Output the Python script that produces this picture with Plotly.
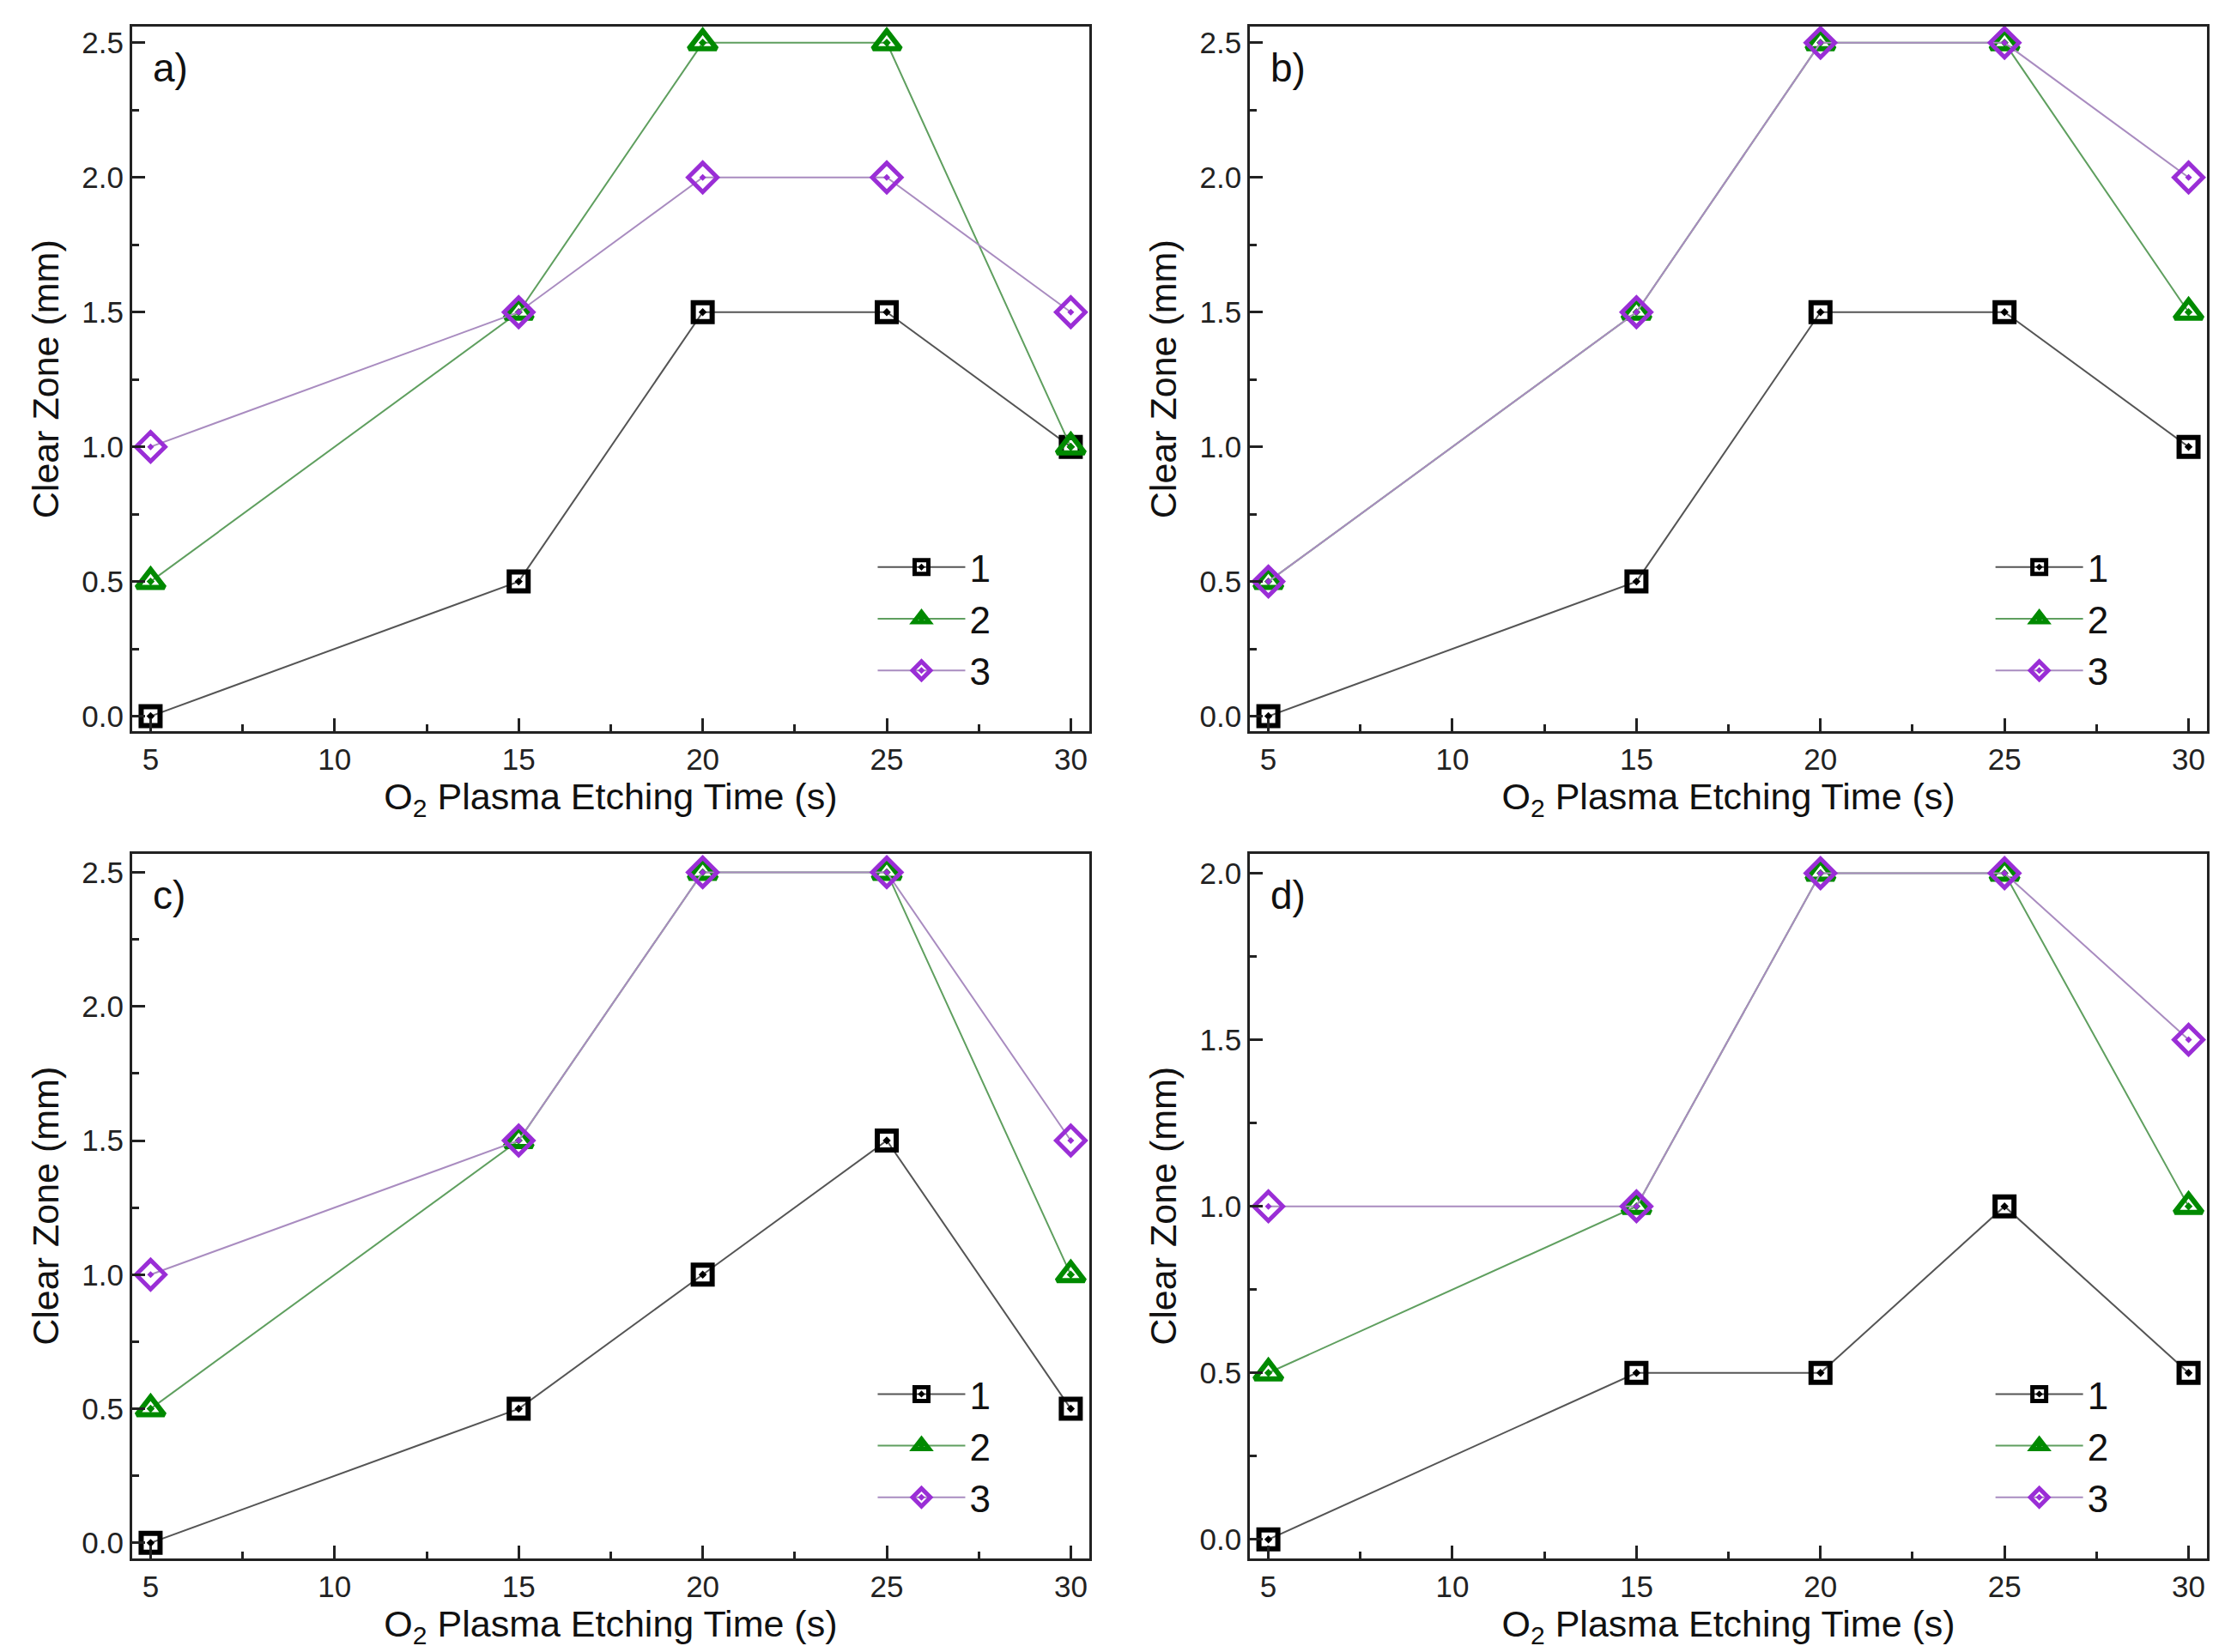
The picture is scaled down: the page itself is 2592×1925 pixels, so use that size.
import plotly.graph_objects as go
from plotly.subplots import make_subplots

# etching times (s)
time_s = [5, 15, 20, 25, 30]
series_names = ["1", "2", "3"]

# clear zone (mm) per panel, series 1/2/3
a_1 = [0.0, 0.5, 1.5, 1.5, 1.0]
a_2 = [0.5, 1.5, 2.5, 2.5, 1.0]
a_3 = [1.0, 1.5, 2.0, 2.0, 1.5]

b_1 = [0.0, 0.5, 1.5, 1.5, 1.0]
b_2 = [0.5, 1.5, 2.5, 2.5, 1.5]
b_3 = [0.5, 1.5, 2.5, 2.5, 2.0]

c_1 = [0.0, 0.5, 1.0, 1.5, 0.5]
c_2 = [0.5, 1.5, 2.5, 2.5, 1.0]
c_3 = [1.0, 1.5, 2.5, 2.5, 1.5]

d_1 = [0.0, 0.5, 0.5, 1.0, 0.5]
d_2 = [0.5, 1.0, 2.0, 2.0, 1.0]
d_3 = [1.0, 1.0, 2.0, 2.0, 1.5]

panel_labels = ["a)", "b)", "c)", "d)"]
panels = [(a_1, a_2, a_3), (b_1, b_2, b_3), (c_1, c_2, c_3), (d_1, d_2, d_3)]
y_ranges = [[-0.057, 2.56], [-0.057, 2.56], [-0.058, 2.57], [-0.057, 2.059]]
y_ticks = [[0, 0.5, 1.0, 1.5, 2.0, 2.5]] * 3 + [[0, 0.5, 1.0, 1.5, 2.0]]

styles = [
    dict(symbol="square-open-dot", mcolor="#000000", lcolor="#555555", size=22, lw=6),
    dict(symbol="triangle-up-open-dot", mcolor="#008a00", lcolor="#5f9f5f", size=28, lw=6),
    dict(symbol="diamond-open-dot", mcolor="#9a2ed6", lcolor="#a98cc0", size=26, lw=5),
]

FONT = "Liberation Sans, Arial, sans-serif"

fig = make_subplots(rows=2, cols=2, horizontal_spacing=0.0775, vertical_spacing=0.0796)

legend_names = ["legend", "legend2", "legend3", "legend4"]
for i, data in enumerate(panels):
    row, col = i // 2 + 1, i % 2 + 1
    for j, ys in enumerate(data):
        st = styles[j]
        fig.add_trace(
            go.Scatter(
                x=time_s,
                y=ys,
                name=series_names[j],
                mode="lines+markers",
                line=dict(color=st["lcolor"], width=2),
                marker=dict(
                    symbol=st["symbol"],
                    size=st["size"],
                    color=st["mcolor"],
                    line=dict(color=st["mcolor"], width=st["lw"]),
                ),
                legend=legend_names[i],
                cliponaxis=False,
            ),
            row=row,
            col=col,
        )

fig.update_xaxes(
    range=[4.5, 30.5],
    tickvals=[5, 10, 15, 20, 25, 30],
    ticks="inside",
    ticklen=15,
    tickwidth=2.5,
    tickcolor="#222",
    minor=dict(dtick=2.5, tick0=5, ticks="inside", ticklen=8, tickwidth=2.5, tickcolor="#222"),
    showline=True,
    linecolor="#222",
    linewidth=3,
    mirror=True,
    showgrid=False,
    zeroline=False,
    tickfont=dict(size=35, color="#222", family=FONT),
    title=dict(text="O<sub>2</sub> Plasma Etching Time (s)", font=dict(size=43, color="#111", family=FONT), standoff=8),
)
for i in range(4):
    row, col = i // 2 + 1, i % 2 + 1
    fig.update_yaxes(
        range=y_ranges[i],
        tickvals=y_ticks[i],
        ticktext=[f"{v:.1f}" for v in y_ticks[i]],
        row=row,
        col=col,
    )
fig.update_yaxes(
    ticks="inside",
    ticklen=15,
    tickwidth=2.5,
    tickcolor="#222",
    minor=dict(dtick=0.25, tick0=0, ticks="inside", ticklen=8, tickwidth=2.5, tickcolor="#222"),
    showline=True,
    linecolor="#222",
    linewidth=3,
    mirror=True,
    showgrid=False,
    zeroline=False,
    tickfont=dict(size=35, color="#222", family=FONT),
    title=dict(text="Clear Zone (mm)", font=dict(size=43, color="#111", family=FONT), standoff=14),
)

# panel letters
for i, lab in enumerate(panel_labels):
    ax = "" if i == 0 else str(i + 1)
    fig.add_annotation(
        text=lab,
        xref=f"x{ax} domain",
        yref=f"y{ax} domain",
        x=0,
        y=1,
        xanchor="left",
        yanchor="top",
        xshift=22,
        yshift=-20,
        showarrow=False,
        font=dict(size=46, color="#111", family=FONT),
    )

# one legend per panel, lower right
layout_legends = {}
for i, name in enumerate(legend_names):
    ax = "" if i == 0 else str(i + 1)
    xd = fig.layout[f"xaxis{ax}"].domain
    yd = fig.layout[f"yaxis{ax}"].domain
    layout_legends[name] = dict(
        x=xd[1] - 0.104,
        y=yd[0] + 0.02,
        xanchor="left",
        yanchor="bottom",
        bgcolor="rgba(0,0,0,0)",
        font=dict(size=44, color="#111", family=FONT),
        itemwidth=102,
        tracegroupgap=0,
    )

fig.update_layout(
    width=2592,
    height=1925,
    margin=dict(l=146, r=29, t=23, b=117),
    plot_bgcolor="white",
    paper_bgcolor="white",
    showlegend=True,
    **layout_legends,
)

fig.write_html("out.html")
